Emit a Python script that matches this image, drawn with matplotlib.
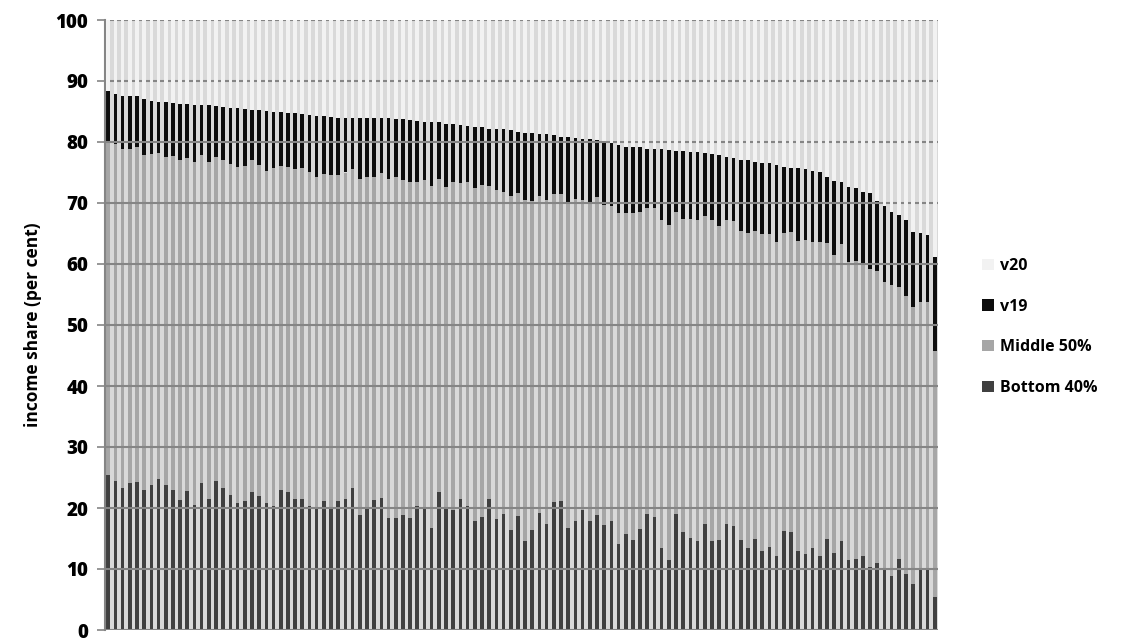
import numpy as np
import matplotlib
matplotlib.use("Agg")
import matplotlib.pyplot as plt
from matplotlib.patches import Patch

plt.rcParams['font.family'] = ['Open Sans', 'DejaVu Sans']
plt.rcParams['font.weight'] = 'bold'

# --- données (parts de revenu, en %) ---
bottom_40 = [
    25.4, 24.5, 23.2, 24.1, 24.2, 22.9, 23.8, 24.7, 23.7, 22.9,
    21.3, 22.8, 20.5, 24.1, 21.4, 24.5, 23.2, 22.2, 20.8, 21.2,
    22.6, 22.0, 20.8, 20.3, 23.0, 22.7, 21.4, 21.5, 20.3, 20.0,
    21.2, 19.8, 21.2, 21.5, 23.3, 18.9, 19.9, 21.3, 21.7, 18.4,
    18.3, 18.8, 18.3, 20.4, 20.0, 16.7, 22.6, 20.0, 19.7, 21.5,
    20.4, 17.9, 18.6, 21.4, 18.2, 19.0, 16.4, 18.7, 14.6, 16.4,
    19.2, 17.4, 21.0, 21.1, 16.7, 17.9, 19.7, 17.9, 18.9, 17.2,
    17.8, 14.1, 15.7, 14.8, 16.5, 19.0, 18.6, 13.4, 11.5, 19.0,
    16.1, 15.1, 14.6, 17.3, 14.6, 14.7, 17.4, 17.0, 14.8, 13.4,
    14.9, 12.9, 13.6, 12.2, 16.3, 16.1, 12.9, 12.4, 13.4, 12.2,
    14.9, 12.6, 14.6, 11.5, 11.6, 12.2, 10.3, 11.0, 10.1, 8.9,
    11.6, 9.1, 7.5, 10.2, 9.8, 5.4,
]
middle_50 = [
    54.6, 55.2, 55.6, 54.7, 54.9, 54.9, 54.2, 53.5, 53.9, 54.8,
    55.7, 54.6, 56.2, 53.7, 55.3, 53.1, 53.8, 54.2, 55.1, 54.8,
    54.4, 54.2, 54.5, 55.4, 53.1, 53.2, 54.1, 54.2, 54.8, 54.2,
    53.5, 54.8, 53.4, 53.5, 52.2, 55.1, 54.3, 52.9, 53.2, 55.5,
    55.9, 55.0, 55.1, 53.1, 53.7, 56.1, 51.4, 52.7, 53.7, 51.8,
    53.0, 54.5, 54.4, 51.4, 54.0, 52.8, 54.7, 52.9, 55.9, 54.0,
    52.0, 53.1, 50.4, 50.4, 53.1, 52.8, 50.8, 52.2, 52.1, 52.5,
    51.7, 54.3, 52.6, 53.6, 52.0, 50.1, 50.6, 53.8, 54.9, 49.6,
    51.2, 52.2, 52.6, 50.6, 52.6, 51.6, 49.8, 50.0, 50.6, 51.7,
    50.5, 52.0, 51.3, 51.4, 48.7, 49.1, 50.8, 51.5, 50.2, 51.4,
    48.6, 48.9, 48.6, 48.8, 48.9, 48.0, 48.8, 47.8, 46.9, 47.7,
    44.6, 45.7, 45.4, 43.6, 44.0, 40.4,
]
v19 = [
    8.4, 8.2, 8.7, 8.7, 8.4, 9.2, 8.8, 8.3, 8.9, 8.7,
    9.3, 8.9, 9.4, 8.3, 9.3, 8.3, 8.7, 9.1, 9.6, 9.4,
    8.3, 9.0, 9.8, 9.3, 8.8, 8.9, 9.2, 8.9, 9.4, 10.0,
    9.5, 9.5, 9.4, 9.0, 8.5, 9.9, 9.7, 9.7, 9.0, 10.0,
    9.6, 10.0, 10.2, 9.9, 9.6, 10.5, 9.2, 10.3, 9.5, 9.5,
    9.2, 10.1, 9.4, 9.4, 10.0, 10.3, 10.8, 10.1, 11.0, 11.0,
    10.1, 10.8, 9.8, 9.4, 11.1, 10.0, 10.0, 10.4, 9.3, 10.5,
    10.3, 11.1, 10.9, 10.8, 10.6, 9.8, 9.6, 11.6, 12.3, 10.0,
    11.2, 11.0, 11.1, 10.3, 10.8, 11.5, 10.4, 10.4, 11.7, 11.9,
    11.3, 11.7, 11.6, 12.7, 10.9, 10.6, 12.0, 11.6, 11.6, 11.5,
    10.7, 12.1, 10.2, 12.3, 11.9, 11.6, 12.6, 11.5, 12.5, 11.9,
    11.8, 12.4, 12.4, 11.2, 11.0, 15.3,
]

# v20 = le reste jusqu'à 100
bottom_40 = np.array(bottom_40)
middle_50 = np.array(middle_50)
v19 = np.array(v19)
v20 = 100 - bottom_40 - middle_50 - v19

COL_BOTTOM = '#404040'
COL_MIDDLE = '#a6a6a6'
COL_V19 = '#0d0d0d'
COL_V20 = '#f2f2f2'
GRID = '#858585'
WIDTH = 0.5

fig = plt.figure(figsize=(11.36, 6.42), dpi=100)
ax = fig.add_axes([105 / 1136, 12 / 642, 833 / 1136, 610 / 642])
ax.set_facecolor('#d9d9d9')

x = np.arange(len(bottom_40))
ax.bar(x, bottom_40, WIDTH, color=COL_BOTTOM, zorder=2, linewidth=0)
ax.bar(x, middle_50, WIDTH, bottom=bottom_40, color=COL_MIDDLE, zorder=2, linewidth=0)
ax.bar(x, v19, WIDTH, bottom=bottom_40 + middle_50, color=COL_V19, zorder=2, linewidth=0)
# les barres v20 passent devant le quadrillage
ax.bar(x, v20, WIDTH, bottom=bottom_40 + middle_50 + v19, color=COL_V20, zorder=4, linewidth=0)

ax.set_xlim(-0.45, len(x) - 0.55)
ax.set_ylim(0, 100)
ax.set_yticks(range(0, 101, 10))
ax.yaxis.grid(True, color=GRID, linewidth=1.5, zorder=3)
ax.set_axisbelow(False)
ax.set_xticks([])

for side in ['top', 'right', 'bottom']:
    ax.spines[side].set_visible(False)
ax.spines['left'].set_color(GRID)
ax.spines['left'].set_linewidth(1.5)
ax.tick_params(axis='y', length=6, width=1.2, color=GRID, labelsize=13.5, pad=6)
for lab in ax.get_yticklabels():
    lab.set_fontweight('heavy')

ax.set_ylabel('income share (per cent)', fontsize=12.5, fontweight='bold', labelpad=10)

handles = [
    Patch(facecolor=COL_V20, label='v20'),
    Patch(facecolor=COL_V19, label='v19'),
    Patch(facecolor=COL_MIDDLE, label='Middle 50%'),
    Patch(facecolor=COL_BOTTOM, label='Bottom 40%'),
]
fig.legend(handles=handles, loc='center left', bbox_to_anchor=(968 / 1136, 1 - 327 / 642),
           frameon=False, prop={'weight': 'bold', 'size': 11.5},
           handlelength=0.7, handleheight=0.7, handletextpad=0.4, labelspacing=1.55)

fig.savefig('out.png', dpi=100)
